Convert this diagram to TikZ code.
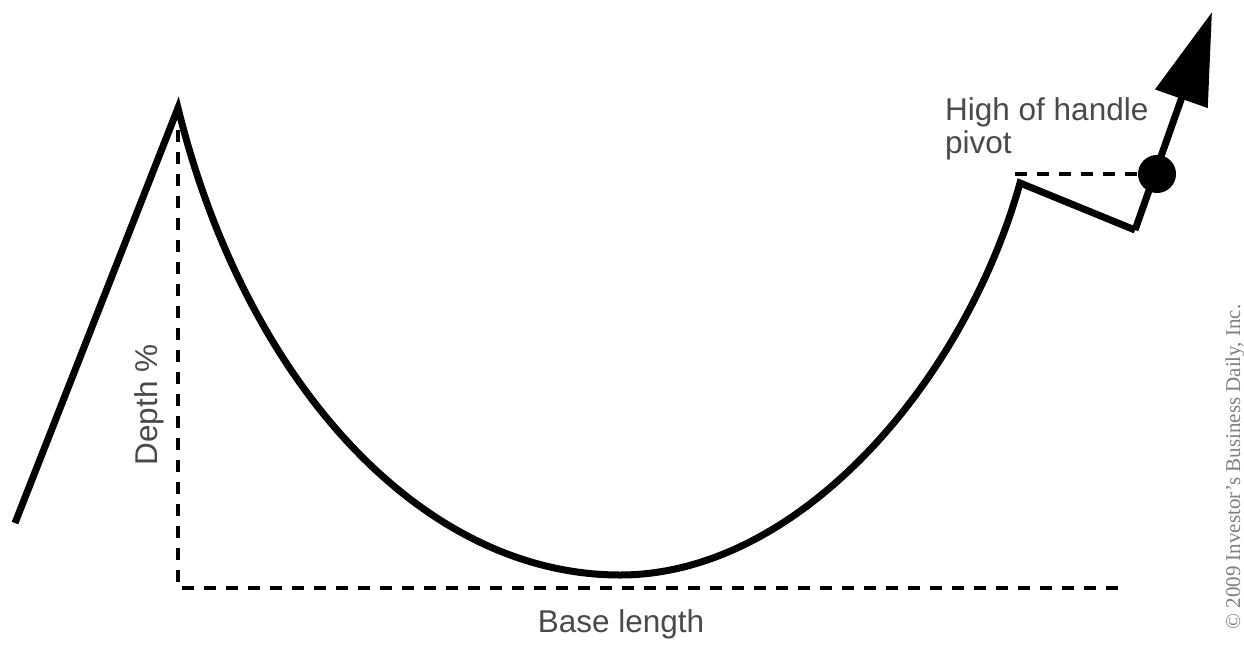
\documentclass[tikz,border=0pt]{standalone}
\usepackage{fontspec}
\setmainfont{Liberation Sans}
\newfontfamily\cpyfont{Liberation Serif}
\usetikzlibrary{arrows.meta}
\definecolor{labelgray}{HTML}{4A4A4A}
\definecolor{cpygray}{HTML}{808080}
\begin{document}
\begin{tikzpicture}[x=1pt,y=-1pt,
  chart/.style={line width=7pt,line join=miter,miter limit=20},
  guide/.style={line width=3.2pt,dash pattern=on 12pt off 10pt},
  lbl/.style={text=labelgray,font=\fontsize{31.5}{31.5}\selectfont,inner sep=0pt}]
\useasboundingbox[fill=white] (0,0) rectangle (1244,645);
% key points
\coordinate (start) at (15,523);
\coordinate (peak) at (178,108);
\coordinate (bottom) at (620,575);
\coordinate (htop) at (1020,183);
\coordinate (hlow) at (1135,230);
\coordinate (tip) at (1212,12);
\coordinate (vtop) at (178,130);
\coordinate (corner) at (178,588);
\coordinate (bend) at (1125,588);
\coordinate (pstart) at (1015,174);
\coordinate (pivot) at (1157,174);
% guides
\draw[guide] (vtop) -- (corner) -- (bend);
\draw[guide] (pstart) -- (pivot);
% cup and handle
\draw[chart] (start) -- (peak)
  .. controls (245,380) and (420,575) .. (bottom)
  .. controls (800,575) and (965,380) .. (htop)
  -- (hlow);
\draw[line width=7pt,-{Triangle[length=92pt,width=54pt]}] (hlow) -- (tip);
\fill (pivot) circle (19pt);
% labels
\node[lbl,anchor=base west] (hol1) at (945,120) {High of handle};
\node[lbl,anchor=base west] (hol2) at (945,153) {pivot};
\node[lbl,anchor=base,rotate=90] (depth) at (157,405) {Depth \%};
\node[lbl,anchor=base] (base) at (621,632) {Base length};
\node[text=cpygray,font=\cpyfont\fontsize{21}{21}\selectfont,inner sep=0pt,anchor=base,rotate=90] (cpy) at (1240,467) {© 2009 Investor’s Business Daily, Inc.};
\end{tikzpicture}
\end{document}
